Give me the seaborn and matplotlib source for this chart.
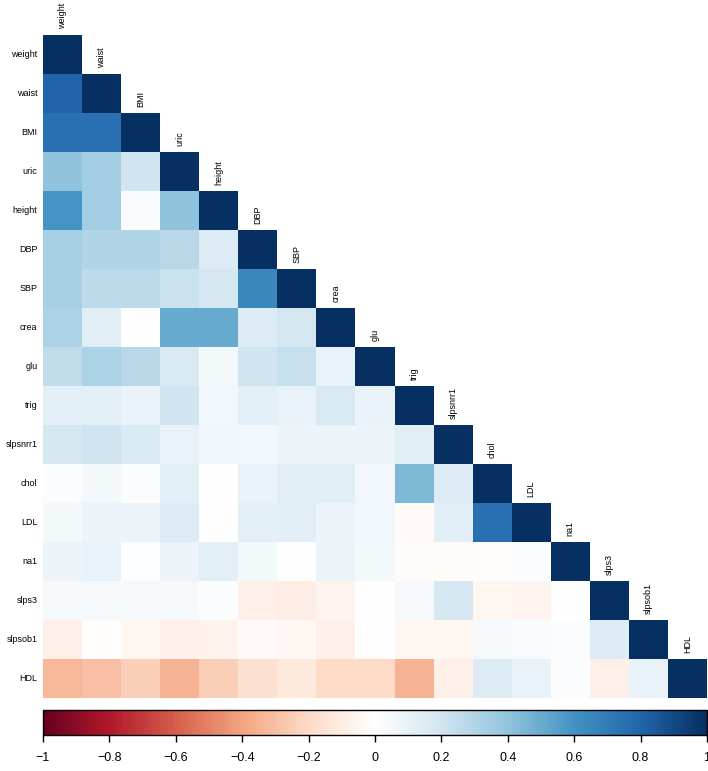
import numpy as np
import pandas as pd
import matplotlib
matplotlib.use("Agg")
import matplotlib.pyplot as plt
from matplotlib.colors import LinearSegmentedColormap
import seaborn as sns

variables = ["weight", "waist", "BMI", "uric", "height", "DBP", "SBP", "crea", "glu",
             "trig", "slpsnrr1", "chol", "LDL", "na1", "slps3", "slpsob1", "HDL"]

# lower-triangle correlations, row by row (values left of the diagonal)
row_waist = [0.80]
row_BMI = [0.75, 0.75]
row_uric = [0.40, 0.35, 0.20]
row_height = [0.60, 0.35, 0.03, 0.40]
row_DBP = [0.33, 0.30, 0.30, 0.28, 0.15]
row_SBP = [0.33, 0.27, 0.27, 0.22, 0.18, 0.65]
row_crea = [0.32, 0.13, 0.00, 0.50, 0.50, 0.15, 0.18]
row_glu = [0.25, 0.32, 0.28, 0.17, 0.05, 0.20, 0.23, 0.10]
row_trig = [0.12, 0.12, 0.10, 0.20, 0.06, 0.12, 0.10, 0.17, 0.10]
row_slpsnrr1 = [0.18, 0.20, 0.16, 0.10, 0.07, 0.06, 0.08, 0.08, 0.08, 0.13]
row_chol = [0.02, 0.05, 0.02, 0.12, 0.00, 0.10, 0.13, 0.13, 0.06, 0.45, 0.15]
row_LDL = [0.05, 0.08, 0.08, 0.15, 0.00, 0.12, 0.13, 0.08, 0.06, -0.03, 0.13, 0.75]
row_na1 = [0.08, 0.10, 0.01, 0.08, 0.12, 0.05, 0.00, 0.08, 0.05, -0.02, -0.02, -0.01, 0.02]
row_slps3 = [0.04, 0.04, 0.04, 0.04, 0.02, -0.08, -0.10, -0.06, 0.00, 0.04, 0.18, -0.05, -0.06, 0.00]
row_slpsob1 = [-0.08, -0.01, -0.05, -0.08, -0.07, -0.03, -0.04, -0.08, 0.00, -0.04, -0.05, 0.04, 0.03, 0.02, 0.15]
row_HDL = [-0.33, -0.30, -0.25, -0.35, -0.25, -0.17, -0.12, -0.20, -0.20, -0.35, -0.08, 0.15, 0.10, 0.02, -0.08, 0.10]

cbar_ticks = [-1, -0.8, -0.6, -0.4, -0.2, 0, 0.2, 0.4, 0.6, 0.8, 1]

rows = [[], row_waist, row_BMI, row_uric, row_height, row_DBP, row_SBP, row_crea, row_glu,
        row_trig, row_slpsnrr1, row_chol, row_LDL, row_na1, row_slps3, row_slpsob1, row_HDL]
n = len(variables)
mat = np.eye(n)
for i, r in enumerate(rows):
    for j, v in enumerate(r):
        mat[i, j] = v
        mat[j, i] = v
df = pd.DataFrame(mat, index=variables, columns=variables)
mask = np.triu(np.ones_like(mat, dtype=bool), k=1)

rdbu_colors = ["#67001F", "#B2182B", "#D6604D", "#F4A582", "#FDDBC7", "#FFFFFF",
               "#D1E5F0", "#92C5DE", "#4393C3", "#2166AC", "#053061"]
cmap = LinearSegmentedColormap.from_list("corr_rdbu", rdbu_colors, N=256)

sns.set_theme(style="white")
plt.rcParams['font.family'] = ['Liberation Sans', 'DejaVu Sans']

W, H = 708, 771
fig = plt.figure(figsize=(W / 100, H / 100), dpi=100)
ax = fig.add_axes([43 / W, (H - 698) / H, 664 / W, 663 / H])
cax = fig.add_axes([43 / W, (H - 735) / H, 664 / W, 25 / H])

sns.heatmap(df, mask=mask, cmap=cmap, vmin=-1, vmax=1, ax=ax, cbar_ax=cax,
            cbar_kws={"orientation": "horizontal", "ticks": cbar_ticks},
            xticklabels=False, yticklabels=True, square=False)

ax.tick_params(axis='y', left=False, length=0, pad=4, labelsize=6.5, rotation=0)
for lab in ax.get_yticklabels():
    lab.set_rotation(0)
    lab.set_color("black")
for k, name in enumerate(variables):
    ax.text(k + 0.5, k - 0.15, name, rotation=90, ha='center', va='bottom',
            fontsize=6.5, color='black', clip_on=False)

cb = ax.collections[0].colorbar
cb.outline.set_visible(True)
cb.outline.set_edgecolor("black")
cb.outline.set_linewidth(1)
cax.tick_params(axis='x', bottom=True, length=5, width=1, color='black', pad=7,
                labelsize=9, labelcolor='black')
cax.set_xticklabels([("\u2212" if t < 0 else "") + (f"{abs(t):g}") for t in cbar_ticks])

fig.savefig("out.png", dpi=100)
